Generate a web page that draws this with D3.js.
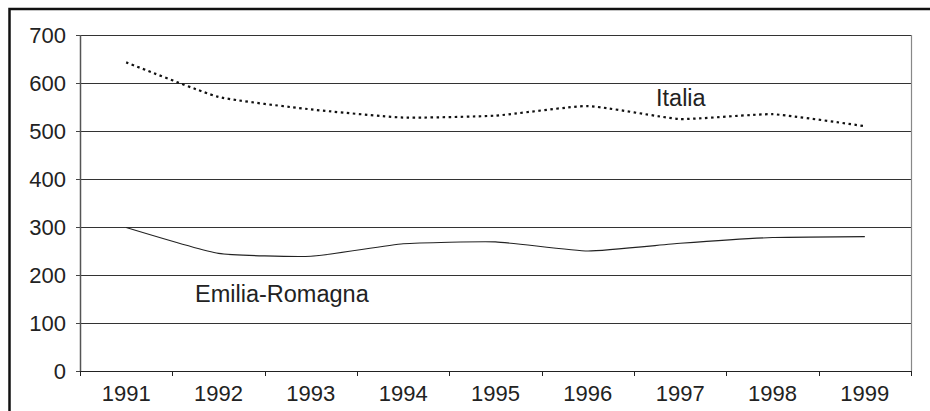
<!DOCTYPE html>
<meta charset="utf-8">
<head>
<title>Italia / Emilia-Romagna 1991-1999</title>
<script src="https://cdnjs.cloudflare.com/ajax/libs/d3/7.8.5/d3.min.js" charset="utf-8"></script>
<style type="text/css">
body {margin: 0; background: #fff;}
text {font-family: "Liberation Sans", Arial, sans-serif; fill: #222;}
.domain {display: none;}
</style>
</head>
<body>
<script>
// Data
var years       = ["1991","1992","1993","1994","1995","1996","1997","1998","1999"];
var italia      = [643, 571, 545, 528, 532, 552, 525, 535, 510];
var emilia      = [299, 245, 239, 265, 269, 250, 266, 278, 280];
var yTicks      = [0, 100, 200, 300, 400, 500, 600, 700];

// Parameters
var width  = 930,
    height = 411,
    margin = {top: 35, right: 19, bottom: 40, left: 80};

var svg = d3.select("body").append("svg")
  .attr("width", width)
  .attr("height", height);

// outer frame (right and bottom fall outside the picture)
svg.append("rect")
  .attr("x", 9.5).attr("y", 9)
  .attr("width", width + 20).attr("height", height + 20)
  .style("fill", "none").style("stroke", "#111").style("stroke-width", 2.5);

var g = svg.append("g")
  .attr("transform", "translate(" + margin.left + "," + margin.top + ")");

var w = width - margin.left - margin.right,
    h = height - margin.top - margin.bottom;

var x = d3.scaleBand().domain(years).range([0, w]).padding(0);
var y = d3.scaleLinear().domain([0, 700]).range([h, 0]);

// gridlines
g.selectAll(".grid")
  .data(yTicks.slice(1))
  .enter().append("line")
  .attr("x1", 0).attr("x2", w)
  .attr("y1", d => Math.round(y(d)) + 0.5)
  .attr("y2", d => Math.round(y(d)) + 0.5)
  .style("stroke", "#333").style("stroke-width", 1);

// right border of plot
g.append("line")
  .attr("x1", w + 0.5).attr("x2", w + 0.5)
  .attr("y1", 0).attr("y2", h)
  .style("stroke", "#888").style("stroke-width", 1.2);

// y axis
var yAxis = g.append("g")
  .call(d3.axisLeft(y).tickValues(yTicks).tickSize(4).tickPadding(10));
yAxis.selectAll("text").style("font-size", "22px");
yAxis.selectAll("line").style("stroke", "#444");
g.append("line")
  .attr("x1", 0.5).attr("x2", 0.5).attr("y1", 0).attr("y2", h)
  .style("stroke", "#555").style("stroke-width", 1.5);

// x axis: ticks on band edges, labels at band centres
var xAxis = g.append("g")
  .attr("transform", "translate(0," + h + ")")
  .call(d3.axisBottom(x).tickSize(0).tickPadding(14));
xAxis.selectAll("text").style("font-size", "22px");
g.append("line")
  .attr("x1", 0).attr("x2", w).attr("y1", h + 0.5).attr("y2", h + 0.5)
  .style("stroke", "#222").style("stroke-width", 1.2);
g.selectAll(".xtick")
  .data(years.concat(["end"]))
  .enter().append("line")
  .attr("x1", (d, i) => Math.round(i * x.bandwidth()) + 0.5)
  .attr("x2", (d, i) => Math.round(i * x.bandwidth()) + 0.5)
  .attr("y1", h).attr("y2", h + 5)
  .style("stroke", "#222");

var line = d3.line()
  .x((d, i) => x(years[i]) + x.bandwidth() / 2)
  .y(d => y(d))
  .curve(d3.curveCardinal.tension(0.55));

g.append("path")
  .datum(italia)
  .attr("d", line)
  .style("fill", "none").style("stroke", "#111")
  .style("stroke-width", 2.2).style("stroke-dasharray", "2.5,3.5");

g.append("path")
  .datum(emilia)
  .attr("d", line)
  .style("fill", "none").style("stroke", "#222")
  .style("stroke-width", 1.1);

// series labels
g.append("text")
  .attr("x", 656 - margin.left).attr("y", 106 - margin.top)
  .style("font-size", "23.5px").text("Italia");
g.append("text")
  .attr("x", 195 - margin.left).attr("y", 302 - margin.top)
  .style("font-size", "23.5px").text("Emilia-Romagna");
</script>
</body>
